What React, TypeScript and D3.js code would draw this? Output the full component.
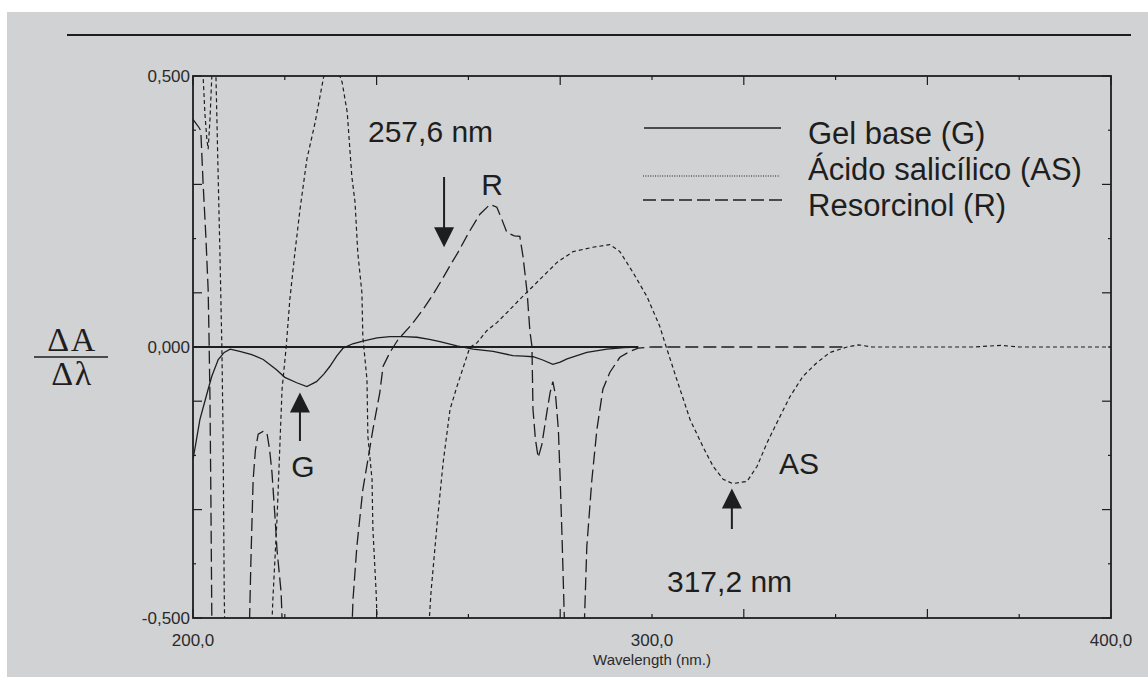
import React from "react";
import * as d3 from "d3";

// ---------- data (wavelength nm, ΔA/Δλ) ----------
const gelBase: [number, number][] = [
  [200, -0.208], [201.5, -0.134], [203.3, -0.078], [204.1, -0.054], [205.5, -0.023], [206.8, -0.01],
  [208.1, -0.004], [210.2, -0.008], [212.8, -0.014], [215.3, -0.023], [218.2, -0.042], [220, -0.056],
  [222.6, -0.066], [224.8, -0.073], [226.9, -0.064], [228.5, -0.05], [229.8, -0.036], [231.3, -0.017],
  [232.7, -0.002], [234.8, 0.006], [237, 0.011], [240.1, 0.017], [242.9, 0.019], [245.8, 0.019],
  [248.8, 0.018], [251.5, 0.014], [253.8, 0.01], [257.5, 0.002], [261, -0.004], [265.4, -0.008],
  [269.7, -0.016], [272, -0.017], [274.1, -0.018], [276.2, -0.024], [278.4, -0.032], [280, -0.028],
  [281.5, -0.022], [285.8, -0.01], [290.2, -0.004], [294, -0.001], [297, 0],
];

const acidoSalicilico: [number, number][] = [
  [200, 0.7], [201.5, 0.58], [202.2, 0.5], [202.6, 0.43], [203.0, 0.385], [203.3, 0.365], [203.7, 0.42],
  [204.1, 0.5], [204.5, 0.56], [205.0, 0.5], [205.4, 0.346], [205.9, 0.161], [206.3, -0.005],
  [206.55, -0.16], [206.8, -0.45], [207.2, -0.7], [211, -0.95], [215.5, -0.8], [217, -0.55],
  [217.4, -0.466], [218.3, -0.318], [219.4, -0.078], [220.3, 0], [221.1, 0.088], [222.2, 0.174],
  [223.3, 0.253], [224.8, 0.346], [226.6, 0.414], [228.5, 0.5], [230.5, 0.535], [232.5, 0.488],
  [233.6, 0.433], [234.6, 0.315], [235.3, 0.267], [235.9, 0.174], [236.8, 0.1], [237.0, 0.019],
  [237.9, -0.06], [238.1, -0.165], [239.0, -0.244], [239.2, -0.337], [239.9, -0.453], [240.3, -0.55],
  [242, -0.8], [246, -0.9], [250.5, -0.7], [251.5, -0.5], [251.85, -0.453], [253.2, -0.324],
  [254.5, -0.213], [256.0, -0.115], [257.5, -0.073], [260.3, -0.001], [261.9, 0.008], [264, 0.03],
  [266.2, 0.045], [268.7, 0.066], [271.2, 0.088], [274.9, 0.119], [279.3, 0.156], [282.8, 0.176],
  [287.1, 0.184], [290.8, 0.189], [293.0, 0.176], [295.9, 0.137], [298.9, 0.093], [301.7, 0.038],
  [302.8, 0.008], [305.4, -0.06], [308.3, -0.134], [311.1, -0.184], [313.3, -0.22], [315.5, -0.244],
  [317.6, -0.252], [320.7, -0.248], [322.9, -0.22], [325.1, -0.176], [327.9, -0.128], [330.1, -0.091],
  [332.9, -0.054], [335.9, -0.029], [338.8, -0.01], [342.5, 0], [345, 0.004], [348, 0], [370, 0],
  [376, 0.003], [380, 0], [400, 0],
];

const resorcinol: [number, number][] = [
  [200, 0.42], [201.3, 0.405], [201.7, 0.399], [202.2, 0.302], [202.8, 0.204], [203.3, 0.106],
  [203.5, 0.014], [203.7, -0.097], [203.9, -0.281], [204.1, -0.5], [204.4, -0.75], [208, -0.9],
  [211.5, -0.8], [212.2, -0.55], [212.6, -0.4], [213.1, -0.245], [213.6, -0.19], [214.2, -0.161],
  [215.25, -0.156], [216.1, -0.158], [216.7, -0.19], [217.2, -0.231], [217.9, -0.318], [218.3, -0.374],
  [219.2, -0.453], [219.6, -0.55], [221, -0.8], [228, -0.95], [233.5, -0.8], [234.5, -0.55],
  [234.86, -0.466], [235.7, -0.368], [237.0, -0.263], [238.1, -0.208], [239.2, -0.152], [240.7, -0.084],
  [241.4, -0.036], [242.9, -0.01], [244.7, 0.014], [247.5, 0.04], [250.1, 0.069], [252.3, 0.097],
  [254.5, 0.128], [256.4, 0.156], [257.7, 0.174], [260, 0.21], [262.5, 0.245], [264.7, 0.263],
  [266.2, 0.258], [267.3, 0.235], [268.4, 0.211], [270, 0.205], [271.2, 0.204], [271.9, 0.167],
  [272.8, 0.1], [273.4, 0.029], [273.85, 0.001], [274.07, -0.115], [274.6, -0.17], [275.2, -0.204],
  [276.0, -0.18], [277.1, -0.12], [277.8, -0.084], [278.4, -0.064], [279.0, -0.09], [279.6, -0.152],
  [280.0, -0.245], [280.4, -0.35], [280.9, -0.5], [281.3, -0.7], [283, -0.85], [285, -0.6],
  [285.3, -0.5], [285.8, -0.368], [286.9, -0.245], [288.0, -0.152], [289.3, -0.078], [290.8, -0.047],
  [293, -0.019], [295.2, -0.008], [297, -0.002], [300, 0], [342, 0],
];

const legendLabels = ["Gel base (G)", "Ácido salicílico (AS)", "Resorcinol (R)"];
const xTickLabels = ["200,0", "300,0", "400,0"];
const xTickValues = [200, 300, 400];
const yTickLabels = ["0,500", "0,000", "-0,500"];
const yTickValues = [0.5, 0, -0.5];

const W = 1148;
const H = 677;
const L = 193, R = 1111, T = 76, B = 618;
const INK = "#1e1e1e";
const SANS = "'Liberation Sans', Arial, sans-serif";
const SERIF = "'Liberation Serif', 'Times New Roman', serif";

export default function App() {
  const x = d3.scaleLinear().domain([200, 400]).range([L, R]);
  const y = d3.scaleLinear().domain([-0.5, 0.5]).range([B, T]);
  const line = d3.line<[number, number]>().x(d => x(d[0])).y(d => y(d[1]));

  const minorX = d3.range(200, 401, 20);
  const minorY = d3.range(-5, 6).map(v => v / 10);

  const arrowDown = (cx: number, y0: number, tip: number) => (
    <g>
      <line x1={cx} x2={cx} y1={y0} y2={tip - 18} stroke={INK} strokeWidth={2} />
      <path d={`M${cx - 10},${tip - 20} L${cx + 10},${tip - 20} L${cx},${tip} Z`} fill={INK} />
    </g>
  );
  const arrowUp = (cx: number, y0: number, tip: number) => (
    <g>
      <line x1={cx} x2={cx} y1={y0} y2={tip + 18} stroke={INK} strokeWidth={2} />
      <path d={`M${cx - 10},${tip + 20} L${cx + 10},${tip + 20} L${cx},${tip} Z`} fill={INK} />
    </g>
  );

  return (
    <svg width={W} height={H} style={{ position: "absolute", left: 0, top: 0 }}>
      <rect x={0} y={0} width={W} height={H} fill="#ffffff" />
      <rect x={7} y={12} width={W - 7} height={H - 12} fill="#d1d2d4" />
      <line x1={67} x2={1131} y1={35} y2={35} stroke={INK} strokeWidth={2} />

      <defs>
        <clipPath id="plotclip">
          <rect x={L} y={T} width={R - L} height={B - T} />
        </clipPath>
      </defs>

      {/* ticks */}
      {minorX.map(v => {
        const major = (v - 200) % 40 === 0;
        const len = major ? 9 : 4;
        return (
          <g key={"xt" + v}>
            <line x1={x(v)} x2={x(v)} y1={T} y2={T + len} stroke={INK} strokeWidth={1.2} />
            <line x1={x(v)} x2={x(v)} y1={B} y2={B - len} stroke={INK} strokeWidth={1.2} />
          </g>
        );
      })}
      {minorY.map(v => {
        const major = Math.round(Math.abs(v) * 10) % 2 === 1;
        const len = major ? 9 : 3;
        return (
          <g key={"yt" + v}>
            <line x1={L} x2={L + len} y1={y(v)} y2={y(v)} stroke={INK} strokeWidth={1.2} />
            <line x1={R} x2={R - len} y1={y(v)} y2={y(v)} stroke={INK} strokeWidth={1.2} />
          </g>
        );
      })}

      {/* zero reference line */}
      <line x1={x(200)} x2={x(297)} y1={y(0)} y2={y(0)} stroke={INK} strokeWidth={1.8} />

      {/* curves */}
      <g clipPath="url(#plotclip)" fill="none" stroke={INK}>
        <path d={line(gelBase) || ""} strokeWidth={1.3} />
        <path d={line(acidoSalicilico) || ""} strokeWidth={1.2} strokeDasharray="4 3" />
        <path d={line(resorcinol) || ""} strokeWidth={1.3} strokeDasharray="13 5" />
      </g>

      {/* frame */}
      <rect x={L} y={T} width={R - L} height={B - T} fill="none" stroke={INK} strokeWidth={1.8} />

      {/* tick labels */}
      {yTickValues.map((v, i) => (
        <text key={"yl" + i} x={L - 3} y={y(v)} dy="0.36em" textAnchor="end" fontFamily={SANS}
          fontSize={17} fill="#2a2a2a">{yTickLabels[i]}</text>
      ))}
      {xTickValues.map((v, i) => (
        <text key={"xl" + i} x={x(v)} y={646} textAnchor="middle" fontFamily={SANS}
          fontSize={17} fill="#2a2a2a">{xTickLabels[i]}</text>
      ))}
      <text x={x(300)} y={665} textAnchor="middle" fontFamily={SANS} fontSize={15} fill="#2a2a2a">
        Wavelength (nm.)
      </text>

      {/* y label fraction */}
      <text x={72} y={351} textAnchor="middle" fontFamily={SERIF} fontSize={34} letterSpacing={1.5} fill={INK}>ΔA</text>
      <line x1={34} x2={108} y1={357} y2={357} stroke={INK} strokeWidth={1.6} />
      <text x={72} y={385} textAnchor="middle" fontFamily={SERIF} fontSize={34} letterSpacing={1.5} fill={INK}>Δλ</text>

      {/* legend */}
      <line x1={644} x2={781} y1={128} y2={128} stroke={INK} strokeWidth={1.5} />
      <line x1={643} x2={780} y1={176} y2={176} stroke={INK} strokeWidth={1} strokeDasharray="1 1.4" />
      <line x1={643} x2={782} y1={200} y2={200} stroke={INK} strokeWidth={1.5} strokeDasharray="13 5" />
      {legendLabels.map((t, i) => (
        <text key={"lg" + i} x={808} y={144 + i * 36} fontFamily={SANS} fontSize={31} fill={INK}>{t}</text>
      ))}

      {/* annotations */}
      <text x={368} y={142} fontFamily={SANS} fontSize={30} fill={INK}>257,6 nm</text>
      {arrowDown(x(254.7), 177, y(0.184))}
      <text x={492} y={195} textAnchor="middle" fontFamily={SANS} fontSize={30} fill={INK}>R</text>

      {arrowUp(x(223.3), 441, y(-0.084))}
      <text x={303} y={477} textAnchor="middle" fontFamily={SANS} fontSize={30} fill={INK}>G</text>

      {arrowUp(x(317.4), 529, y(-0.261))}
      <text x={779} y={474} fontFamily={SANS} fontSize={30} fill={INK}>AS</text>
      <text x={667} y={592} fontFamily={SANS} fontSize={30} fill={INK}>317,2 nm</text>
    </svg>
  );
}
